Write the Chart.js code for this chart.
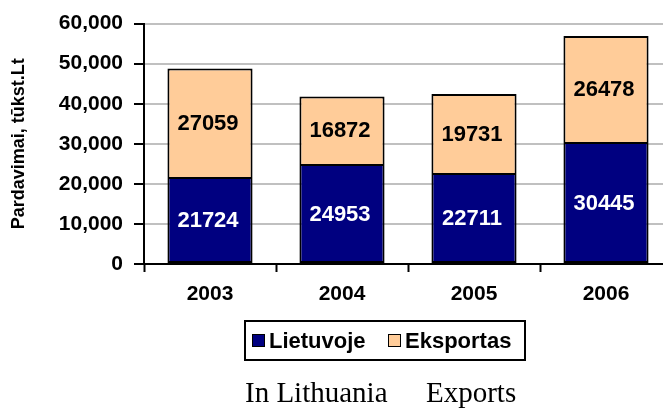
<!DOCTYPE html>
<html>
<head>
<meta charset="utf-8">
<script src="https://cdn.jsdelivr.net/npm/chart.js@4/dist/chart.umd.min.js"></script>
<style>
html,body{margin:0;padding:0;background:#fff;overflow:hidden;width:663px;height:410px;}
#wrap{position:absolute;left:0;top:0;width:680px;height:410px;}
#legend{position:absolute;left:244px;top:320px;width:282px;height:41px;border:2px solid #000;box-sizing:border-box;font:bold 22px "Liberation Sans",Arial,sans-serif;color:#000;}
#legend .item{position:absolute;top:0;height:37px;line-height:37px;white-space:nowrap;}
#legend .sw{display:inline-block;width:11px;height:11px;border:1px solid #000;vertical-align:middle;margin-right:4px;position:relative;top:-2px;}
.cap{position:absolute;top:376px;font:29px "Liberation Serif","Times New Roman",serif;color:#000;white-space:nowrap;}
</style>
</head>
<body>
<div id="wrap"><canvas id="c" width="680" height="410"></canvas></div>
<div id="legend"></div>
<span class="cap" style="left:245px">In Lithuania</span>
<span class="cap" style="left:426px">Exports</span>
<script>
const categories = ['2003', '2004', '2005', '2006'];
const lietuvoje = [21724, 24953, 22711, 30445];
const eksportas = [27059, 16872, 19731, 26478];
const seriesNames = ['Lietuvoje', 'Eksportas'];
const seriesColors = ['#000080', '#FFCC99'];
const labelColors = ['#FFFFFF', '#000000'];
const yTitle = 'Pardavimai, tūkst.Lt';
const yMin = 0, yMax = 60000, yStep = 10000;

const FONT = '"Liberation Sans", Arial, sans-serif';

const dataLabels = {
  id: 'dataLabels',
  afterDatasetsDraw(chart) {
    const ctx = chart.ctx;
    ctx.save();
    ctx.font = 'bold 22px ' + FONT;
    ctx.textAlign = 'center';
    ctx.textBaseline = 'middle';
    chart.data.datasets.forEach((ds, di) => {
      const meta = chart.getDatasetMeta(di);
      meta.data.forEach((bar, i) => {
        const p = bar.getProps(['x', 'y', 'base'], true);
        ctx.fillStyle = labelColors[di];
        ctx.fillText(String(ds.data[i]), p.x - 2, (p.y + p.base) / 2 + 1);
      });
    });
    ctx.restore();
  }
};

new Chart(document.getElementById('c'), {
  type: 'bar',
  data: {
    labels: categories,
    datasets: [
      { label: seriesNames[0], data: lietuvoje, backgroundColor: seriesColors[0], borderColor: '#000', borderWidth: 2, borderSkipped: false },
      { label: seriesNames[1], data: eksportas, backgroundColor: seriesColors[1], borderColor: '#000', borderWidth: { top: 2, left: 2, right: 2, bottom: 0 }, borderSkipped: false }
    ]
  },
  options: {
    responsive: false,
    animation: false,
    layout: { padding: { left: 0, top: 22, right: 8, bottom: 106 } },
    plugins: { legend: { display: false }, tooltip: { enabled: false } },
    datasets: { bar: { categoryPercentage: 1, barPercentage: 0.645 } },
    scales: {
      x: {
        stacked: true,
        afterFit(s) { s.height = 40; },
        border: { color: '#000', width: 2 },
        grid: { drawOnChartArea: false, drawTicks: true, tickLength: 8, tickColor: '#000', tickWidth: 2, offset: true },
        ticks: { color: '#000', font: { family: FONT, size: 21, weight: 'bold' }, padding: 10 }
      },
      y: {
        stacked: true,
        min: yMin, max: yMax,
        afterFit(s) { s.width = 144; },
        border: { color: '#000', width: 2 },
        grid: { color: '#C0C0C0', lineWidth: 2, tickLength: 10, tickColor: '#000', tickWidth: 2 },
        ticks: {
          stepSize: yStep, color: '#000', padding: 11,
          font: { family: FONT, size: 21, weight: 'bold' },
          callback: v => v.toLocaleString('en-US')
        },
        title: { display: true, text: yTitle, color: '#000', font: { family: FONT, size: 18, weight: 'bold' }, padding: { top: 8, bottom: 0 } }
      }
    }
  },
  plugins: [dataLabels]
});

const lg = document.getElementById('legend');
const itemLeft = [6, 142];
seriesNames.forEach((n, i) => {
  const d = document.createElement('div');
  d.className = 'item';
  d.style.left = itemLeft[i] + 'px';
  const sw = document.createElement('span');
  sw.className = 'sw';
  sw.style.background = seriesColors[i];
  d.appendChild(sw);
  d.appendChild(document.createTextNode(n));
  lg.appendChild(d);
});
</script>
</body>
</html>
